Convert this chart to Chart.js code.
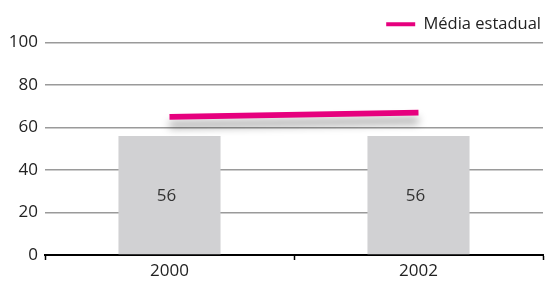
<!DOCTYPE html>
<html>
<head>
<meta charset="utf-8">
<script src="https://cdn.jsdelivr.net/npm/chart.js@4"></script>
<style>
  html, body { margin: 0; padding: 0; background: #fff; }
  #wrap { width: 550px; height: 285px; }
</style>
</head>
<body>
<div id="wrap"><canvas id="barChart"></canvas></div>
<script>
var years = ['2000', '2002'];
var escola = [56, 56];          // bars
var mediaEstadual = [65, 67];   // pink line
var yTicks = [0, 20, 40, 60, 80, 100];

var FONT = '"Open Sans", "Noto Sans", sans-serif';
var pink = 'rgb(230, 0, 126)';

// writes the value in the middle of each bar
var barLabels = {
  id: 'barLabels',
  afterDatasetsDraw: function(chart) {
    var ctx = chart.ctx;
    var meta = chart.getDatasetMeta(0);
    ctx.save();
    ctx.font = '17px ' + FONT;
    ctx.fillStyle = '#333';
    ctx.textAlign = 'center';
    ctx.textBaseline = 'middle';
    meta.data.forEach(function(bar, i) {
      ctx.fillText(escola[i], bar.x - 3, (bar.y + bar.base) / 2 + 1);
    });
    ctx.restore();
  }
};

// soft grey shadow under the line
var lineShadow = {
  id: 'lineShadow',
  beforeDatasetDraw: function(chart, args) {
    if (args.index !== 1) return;
    var ctx = chart.ctx;
    ctx.save();
    ctx.shadowColor = 'rgba(0,0,0,0.4)';
    ctx.shadowBlur = 8;
    ctx.shadowOffsetY = 8;
  },
  afterDatasetDraw: function(chart, args) {
    if (args.index !== 1) return;
    chart.ctx.restore();
  }
};

var ctxBar = document.getElementById('barChart');
const config_bar = {
  type: 'bar',
  data: {
    labels: years,
    datasets: [{
        label: 'Escola',
        data: escola,
        backgroundColor: '#d1d1d3',
        categoryPercentage: 1,
        barPercentage: 0.41,
        order: 2
    }, {
        type: 'line',
        label: 'Média estadual',
        data: mediaEstadual,
        borderColor: pink,
        backgroundColor: pink,
        borderWidth: 6,
        pointRadius: 0,
        tension: 0,
        order: 1
    }]
  },
  options: {
    responsive: true,
    maintainAspectRatio: false,
    animation: false,
    layout: { padding: { left: 0, right: 7, top: 14, bottom: 0 } },
    plugins: {
      tooltip: { enabled: false },
      legend: {
        align: 'end',
        labels: {
          font: { family: FONT, size: 16.5 },
          color: '#222',
          boxWidth: 29,
          boxHeight: 4,
          padding: 2,
          filter: function(item) { return item.datasetIndex === 1; },
          generateLabels: function(chart) {
            var items = Chart.defaults.plugins.legend.labels.generateLabels(chart);
            items.forEach(function(it) { it.lineWidth = 0; });
            return items;
          }
        }
      }
    },
    scales: {
      x: {
        offset: true,
        grid: {
          offset: true,
          drawOnChartArea: false,
          drawTicks: true,
          tickLength: 5,
          tickWidth: 1.5,
          tickColor: '#000'
        },
        border: { display: true, color: '#000', width: 2 },
        ticks: { font: { family: FONT, size: 17 }, color: '#222', padding: 1 },
        afterFit: function(scale) { scale.height = 30; }
      },
      y: {
        min: 0,
        max: 100,
        afterBuildTicks: function(scale) {
          scale.ticks = yTicks.map(function(v) { return { value: v }; });
        },
        grid: { color: '#9a9a9a', lineWidth: 1.5, drawTicks: false },
        border: { display: false },
        ticks: { font: { family: FONT, size: 17 }, color: '#222', padding: 7 },
        afterFit: function(scale) { scale.width = 45; }
      }
    }
  },
  plugins: [barLabels, lineShadow]
};

var barChart = new Chart(ctxBar, config_bar);
</script>
</body>
</html>
